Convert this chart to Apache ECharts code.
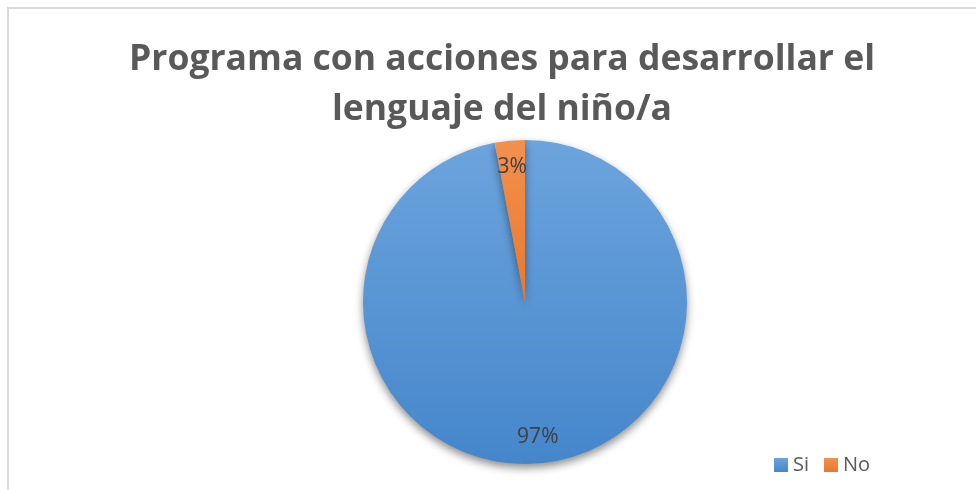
<!DOCTYPE html>
<html>
<head>
<meta charset="utf-8">
<style>
  html, body { margin: 0; padding: 0; background: #ffffff; }
  #chart { width: 976px; height: 490px; }
</style>
<script src="https://cdn.jsdelivr.net/npm/echarts@6/dist/echarts.min.js"></script>
</head>
<body>
<div id="chart"></div>
<script>
const titleText = 'Programa con acciones para desarrollar el\nlenguaje del niño/a';
const categories = ['Si', 'No'];
const values = [97, 3];

const blueGrad = new echarts.graphic.LinearGradient(0, 0, 0, 1, [
  { offset: 0, color: '#6CA4DD' },
  { offset: 1, color: '#4586CB' }
]);
const orangeGrad = new echarts.graphic.LinearGradient(0, 0, 0, 1, [
  { offset: 0, color: '#F1914F' },
  { offset: 1, color: '#EC772B' }
]);
const colors = [blueGrad, orangeGrad];

const pieData = categories.map((c, i) => ({
  name: c,
  value: values[i],
  itemStyle: { color: colors[i] }
}));
const labelData = categories.map((c, i) => ({ name: c, value: values[i] }));

const chart = echarts.init(document.getElementById('chart'), null, { renderer: 'canvas' });
chart.setOption({
  animation: false,
  backgroundColor: '#ffffff',
  title: {
    text: titleText,
    left: 497,
    top: 30,
    textAlign: 'center',
    textStyle: {
      fontFamily: 'Open Sans',
      fontWeight: 'bold',
      fontSize: 35.5,
      lineHeight: 50,
      color: '#595959'
    }
  },
  legend: {
    data: categories,
    left: 774,
    top: 455,
    padding: 0,
    icon: 'rect',
    itemWidth: 14,
    itemHeight: 14,
    itemGap: 15,
    textStyle: { fontFamily: 'Open Sans', fontSize: 20, color: '#595959' }
  },
  graphic: [{
    type: 'rect',
    shape: { x: 8, y: 8, width: 1200, height: 1200 },
    style: { fill: 'none', stroke: '#D9D9D9', lineWidth: 2 },
    silent: true,
    z: -10
  }],
  series: [
    {
      type: 'pie',
      center: [525, 302],
      radius: 162,
      startAngle: 90,
      clockwise: true,
      label: { show: false },
      labelLine: { show: false },
      emphasis: { disabled: true },
      itemStyle: {
        borderWidth: 0,
        shadowBlur: 9,
        shadowOffsetY: 4,
        shadowColor: 'rgba(0,0,0,0.45)'
      },
      data: pieData
    },
    {
      type: 'pie',
      center: [525, 302],
      radius: [104, 162],
      startAngle: 90,
      clockwise: true,
      silent: true,
      itemStyle: { color: 'rgba(0,0,0,0)' },
      emphasis: { disabled: true },
      label: {
        show: true,
        position: 'inside',
        formatter: '{d}%',
        fontFamily: 'Open Sans',
        fontSize: 21,
        color: '#404040'
      },
      labelLine: { show: false },
      data: labelData
    }
  ]
});
</script>
</body>
</html>
